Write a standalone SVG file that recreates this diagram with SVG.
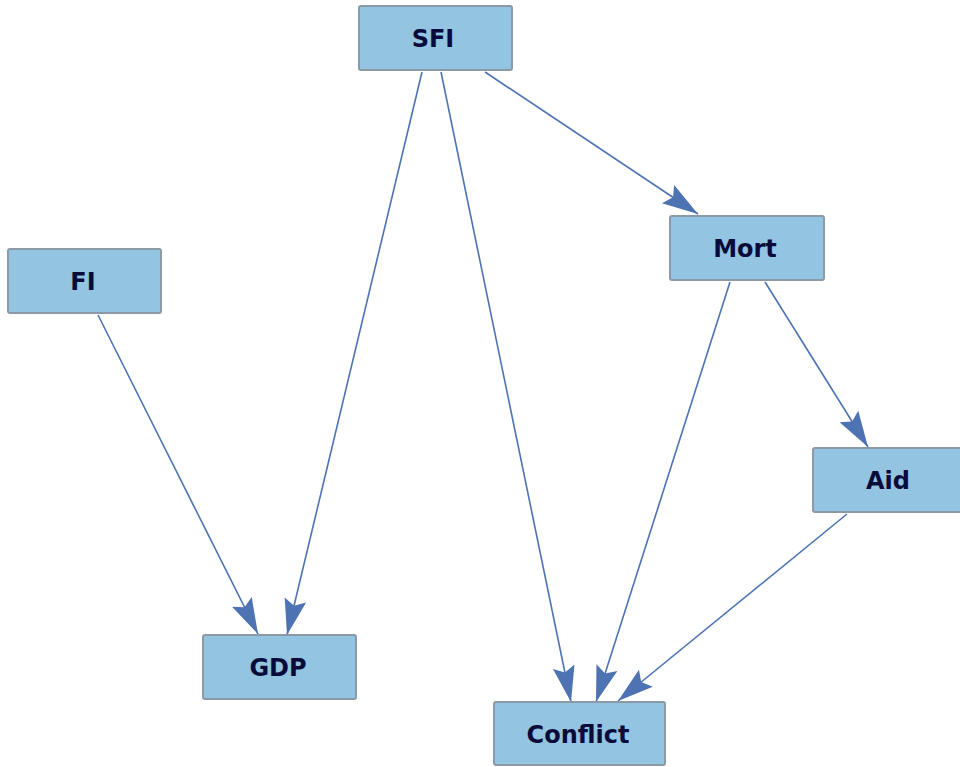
<svg xmlns="http://www.w3.org/2000/svg" width="960" height="767" viewBox="0 0 960 767">
<defs>
<style>
.node rect{fill:#93c4e1;stroke:#8b9aa6;stroke-width:2}
.node text{font-family:"DejaVu Sans",Verdana,sans-serif;font-weight:bold;font-size:24px;fill:#0b0b3b;text-anchor:middle;dominant-baseline:central}
.edge{stroke:#4d73b3;stroke-width:1.6;fill:none;marker-end:url(#ah)}
</style>
<marker id="ah" markerUnits="userSpaceOnUse" markerWidth="36" markerHeight="26" viewBox="0 0 36 26" refX="36" refY="13" orient="auto">
<path d="M0,2 L36,13 L0,24 L6,13 Z" fill="#4d73b3"/>
</marker>
</defs>
<rect width="960" height="767" fill="#ffffff"/>
<g id="connectors">
<line class="edge" x1="422" y1="72" x2="287" y2="635"/>
<line class="edge" x1="441" y1="72" x2="571" y2="702"/>
<line class="edge" x1="485" y1="72" x2="698" y2="214"/>
<line class="edge" x1="98" y1="315" x2="258" y2="634"/>
<line class="edge" x1="730" y1="282" x2="596" y2="702"/>
<line class="edge" x1="765" y1="282" x2="868" y2="447"/>
<line class="edge" x1="847" y1="514" x2="618" y2="701"/>
</g>
<g id="SFI" class="node"><rect x="359" y="6" width="153" height="64" rx="2"/><text x="433" y="39">SFI</text></g>
<g id="FI" class="node"><rect x="8" y="249" width="153" height="64" rx="2"/><text x="83" y="282">FI</text></g>
<g id="Mort" class="node"><rect x="670" y="216" width="154" height="64" rx="2"/><text x="745" y="249">Mort</text></g>
<g id="Aid" class="node"><rect x="813" y="448" width="160" height="64" rx="2"/><text x="888" y="481">Aid</text></g>
<g id="GDP" class="node"><rect x="203" y="635" width="153" height="64" rx="2"/><text x="278" y="668">GDP</text></g>
<g id="Conflict" class="node"><rect x="494" y="702" width="171" height="63" rx="2"/><text x="578" y="735">Conflict</text></g>
</svg>
